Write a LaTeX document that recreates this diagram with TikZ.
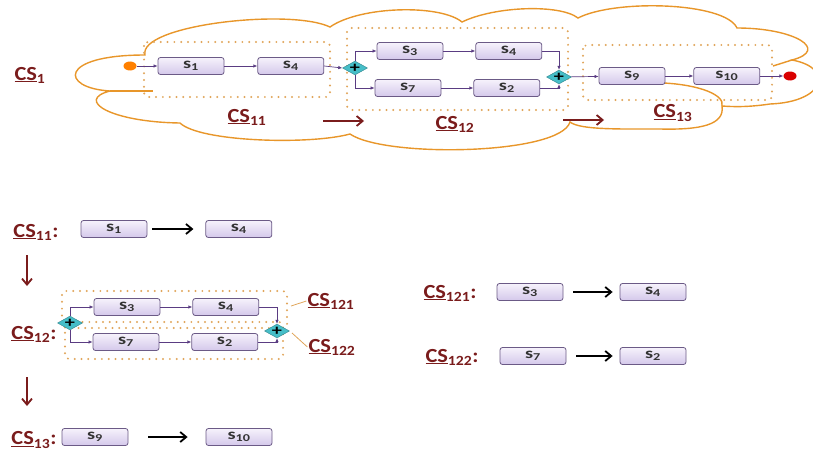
\documentclass[tikz,border=0pt]{standalone}
\usepackage{fontspec}
\setmainfont{Carlito}[FakeStretch=1.35]
\newfontfamily\csfont{Carlito}[FakeStretch=1.12]
\usetikzlibrary{arrows.meta,positioning,shapes.geometric,calc}
\definecolor{csred}{RGB}{122,28,28}
\definecolor{cloudorange}{RGB}{232,150,42}
\definecolor{dotorange}{RGB}{224,165,90}
\definecolor{svcedge}{RGB}{107,90,134}
\definecolor{svctop}{RGB}{246,242,252}
\definecolor{svcbot}{RGB}{212,200,234}
\definecolor{flowpurple}{RGB}{90,60,130}
\definecolor{gateteal}{RGB}{70,190,200}
\newcommand{\cslab}[1]{\underline{CS}\textsubscript{#1}}

\begin{document}
\begin{tikzpicture}[x=1pt,y=-1pt,
  svc/.style={draw=svcedge, line width=0.8pt, rounded corners=2.5pt,
              top color=svctop, bottom color=svcbot, minimum width=66pt,
              minimum height=17pt, inner sep=0pt, text=black!80,
              font=\fontsize{15}{15}\selectfont\bfseries},
  cs/.style={font=\csfont\fontsize{20}{20}\selectfont\bfseries, text=csred, inner sep=1pt},
  flow/.style={-{Latex[length=4pt,width=3.5pt]}, draw=flowpurple, line width=0.7pt},
  bigarr/.style={-{Straight Barb[length=6pt,width=10pt]}, line width=1.8pt},
  redarr/.style={bigarr, draw=csred},
  gate/.style={diamond, aspect=1.8, draw=gateteal!70!black, fill=gateteal,
               minimum width=21pt, minimum height=12pt, inner sep=0pt,
               font=\fontsize{15}{15}\selectfont\bfseries},
  dotbox/.style={draw=dotorange, line width=2.2pt, line cap=round,
                 dash pattern=on 0pt off 6.8pt, rounded corners=4pt},
  cloudline/.style={draw=cloudorange, line width=1.4pt},
  leader/.style={draw=dotorange, line width=0.8pt},
  node distance=0pt and 33pt
]
\useasboundingbox (0,0) rectangle (813,452);

% the cloud round CS1
\draw[cloudline] (110,91) .. controls (60,88) and (58,55) .. (145,55)
  .. controls (138,25) and (290,8) .. (330,27)
  .. controls (360,6) and (440,4) .. (462,22)
  .. controls (495,6) and (560,4) .. (578,18)
  .. controls (615,-1) and (725,2) .. (737,28)
  .. controls (795,28) and (830,50) .. (792,60)
  .. controls (835,68) and (825,102) .. (770,104)
  .. controls (750,107) and (735,107) .. (722,106)
  .. controls (725,125) and (700,130) .. (660,129)
  .. controls (620,129) and (580,130) .. (570,122)
  .. controls (560,155) and (385,158) .. (350,134)
  .. controls (310,145) and (200,142) .. (180,123)
  .. controls (110,122) and (75,100) .. (110,91) -- cycle;
\draw[cloudline] (110,91) -- (153,91);
\draw[cloudline] (664,83) .. controls (700,85) and (725,95) .. (722,106);
\draw[cloudline] (792,60) -- (773,66);

\draw[dotbox] (144,42) rectangle (330,97);
\draw[dotbox] (347,28) rectangle (568,110);
\draw[dotbox] (583,45) rectangle (772,100);

% CS1
\node[cs] (cs1) at (30,75) {\cslab{1}};
\node[ellipse, fill=orange, minimum width=13pt, minimum height=9pt, inner sep=0pt] (start) at (130,66) {};
\node[svc] (a1) at (191,66) {s\textsubscript{1}};
\node[svc, right=of a1] (a4) {s\textsubscript{4}};
\node[gate] (fork) at (355,68) {+};
\node[svc] (a3) at (410,51) {s\textsubscript{3}};
\node[svc, right=32pt of a3] (a4b) {s\textsubscript{4}};
\node[svc] (a7) at (408,88) {s\textsubscript{7}};
\node[svc, right=32pt of a7] (a2) {s\textsubscript{2}};
\node[gate] (join) at (559,77) {+};
\node[svc] (a9) at (632,76) {s\textsubscript{9}};
\node[svc, right=28pt of a9] (a10) {s\textsubscript{10}};
\node[ellipse, fill=red!85!black, minimum width=13pt, minimum height=9pt, inner sep=0pt] (stop) at (790,76) {};

\draw[flow] (start) -- (a1);
\draw[flow] (a1) -- (a4);
\draw[flow] (a4.east) -- (fork.west);
\draw[flow] (fork.north) |- (a3);
\draw[flow] (fork.south) |- (a7);
\draw[flow] (a3) -- (a4b);
\draw[flow] (a7) -- (a2);
\draw[flow] (a4b) -| (join.north);
\draw[flow] (a2) -| (join.south);
\draw[flow] (join) -- (a9);
\draw[flow] (a9) -- (a10);
\draw[flow] (a10) -- (stop);

\node[cs] (cs11) at (247,117) {\cslab{11}};
\node[cs] (cs12) at (455,124) {\cslab{12}};
\node[cs] (cs13) at (673,113) {\cslab{13}};
\coordinate (r1a) at (323,121);
\coordinate (r1b) at (364,121);
\coordinate (r2a) at (563,120);
\coordinate (r2b) at (604,120);
\draw[redarr] (r1a) -- (r1b);
\draw[redarr] (r2a) -- (r2b);

% CS11
\node[cs] (l11) at (36,232) {\cslab{11}:};
\node[svc] (b1) at (114,229) {s\textsubscript{1}};
\node[svc, right=58pt of b1] (b4) {s\textsubscript{4}};
\draw[bigarr, shorten <=5pt, shorten >=12pt] (b1) -- (b4);
\coordinate (d1a) at (27,255);
\coordinate (d1b) at (27,286);
\draw[redarr] (d1a) -- (d1b);

% CS12
\node[cs] (l12) at (34,334) {\cslab{12}:};
\draw[dotbox] (62,291) rectangle (287,328);
\draw[dotbox] (65,322) rectangle (283,359);
\node[gate] (fork2) at (70,323) {+};
\node[svc] (b3) at (127,307) {s\textsubscript{3}};
\node[svc, right=32pt of b3] (b4b) {s\textsubscript{4}};
\node[svc] (b7) at (126,342) {s\textsubscript{7}};
\node[svc, right=32pt of b7] (b2) {s\textsubscript{2}};
\node[gate] (join2) at (277,331) {+};
\draw[flow] (fork2.north) |- (b3);
\draw[flow] (fork2.south) |- (b7);
\draw[flow] (b3) -- (b4b);
\draw[flow] (b7) -- (b2);
\draw[flow] (b4b) -| (join2.north);
\draw[flow] (b2) -| (join2.south);
\node[cs] (l121) at (331,301) {\cslab{121}};
\node[cs] (l122) at (332,347) {\cslab{122}};
\coordinate (k1) at (291,306);
\coordinate (k2) at (292,333);
\draw[leader] (k1) -- (l121.west);
\draw[leader] (k2) -- (l122.west);
\coordinate (d2a) at (27,377);
\coordinate (d2b) at (27,406);
\draw[redarr] (d2a) -- (d2b);

% CS13
\node[cs] (l13) at (34,440) {\cslab{13}:};
\node[svc] (b9) at (95,437) {s\textsubscript{9}};
\node[svc] (b10) at (239,437) {s\textsubscript{10}};
\draw[bigarr, shorten <=20pt, shorten >=18pt] (b9) -- (b10);

% CS121 and CS122
\node[cs] (r121) at (450,293) {\cslab{121}:};
\node[svc] (c3) at (530,292) {s\textsubscript{3}};
\node[svc] (c4) at (653,292) {s\textsubscript{4}};
\draw[bigarr, shorten <=10pt, shorten >=7pt] (c3) -- (c4);
\node[cs] (r122) at (452,357) {\cslab{122}:};
\node[svc] (c7) at (533,356) {s\textsubscript{7}};
\node[svc] (c2) at (653,356) {s\textsubscript{2}};
\draw[bigarr, shorten <=10pt, shorten >=7pt] (c7) -- (c2);
\end{tikzpicture}
\end{document}
